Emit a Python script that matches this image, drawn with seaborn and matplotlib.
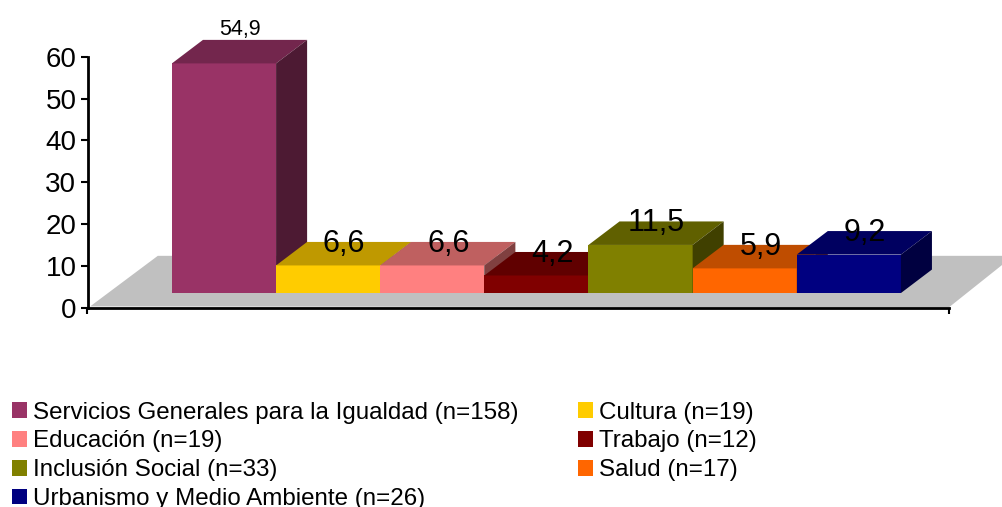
import matplotlib
matplotlib.use("Agg")
import matplotlib.pyplot as plt
import seaborn as sns

categories = ["Servicios Generales para la Igualdad (n=158)", "Cultura (n=19)", "Educación (n=19)",
              "Trabajo (n=12)", "Inclusión Social (n=33)", "Salud (n=17)", "Urbanismo y Medio Ambiente (n=26)"]
values = [54.9, 6.6, 6.6, 4.2, 11.5, 5.9, 9.2]
colors = ["#993366", "#FFCC00", "#FF8080", "#800000", "#808000", "#FF6600", "#000080"]
y_ticks = [0, 10, 20, 30, 40, 50, 60]

sns.set_theme(style="white")
plt.rcParams["font.family"] = ["Liberation Sans", "DejaVu Sans"]

fig = plt.figure(figsize=(10.02, 5.07), dpi=100)
ax = fig.add_axes([87.5 / 1002, (507 - 307.7) / 507, 861.5 / 1002, 251 / 507])

# the fake 3d look: bars float above the axis, depth is a fixed shift
base = 3.5
depth_x = 0.298
depth_y = 5.62

sns.barplot(x=categories, y=values, hue=categories, palette=colors, saturation=1, width=1,
            dodge=False, legend=False, bottom=base, linewidth=0, ax=ax)

x0 = -(224 - 87.5) / 104.14
x1 = x0 + 861.5 / 104.14
ax.set_xlim(x0, x1)
ax.set_ylim(0, 60)


def shade(color, k):
    r, g, b = matplotlib.colors.to_rgb(color)
    return (r * k, g * k, b * k)


# grey floor
floor_x = [x0 + 0.025, x1, x1 + 0.62, x0 + 0.025 + 0.65]
floor_y = [0.3, 0.1, 12.4, 12.4]
ax.fill(floor_x, floor_y, color="#C0C0C0", lw=0, zorder=0.5, clip_on=False)

for i, (val, col) in enumerate(zip(values, colors)):
    bar = ax.containers[i][0]
    bar.set_zorder(2 + i)
    left = bar.get_x()
    right = left + bar.get_width()
    top = base + val
    ax.fill([left, right, right + depth_x, left + depth_x], [top, top, top + depth_y, top + depth_y],
            color=shade(col, 0.75), lw=0, zorder=2.1 + i, clip_on=False)
    ax.fill([right, right + depth_x, right + depth_x, right],
            [base, base + depth_y, top + depth_y, top],
            color=shade(col, 0.5), lw=0, zorder=2.2 + i, clip_on=False)
    label = "{:.1f}".format(val).replace(".", ",")
    if i == 0:
        ax.text(i + depth_x / 2 + 0.005, top + depth_y + 3.0, label, ha="center", va="center_baseline",
                fontsize=15.5, color="black", zorder=20, clip_on=False)
    else:
        ax.text(i + depth_x / 2 + 0.005, top + depth_y + 0.4, label, ha="center", va="center_baseline",
                fontsize=22, color="black", zorder=20, clip_on=False)

for side in ["top", "right"]:
    ax.spines[side].set_visible(False)
for side in ["left", "bottom"]:
    ax.spines[side].set_linewidth(2)
    ax.spines[side].set_color("black")
    ax.spines[side].set_zorder(1)

ax.set_yticks(y_ticks)
ax.set_xticks([x0, x1])
ax.set_xticklabels([])
ax.tick_params(axis="y", left=True, length=5, width=1.5, pad=3, labelsize=20, colors="black")
ax.tick_params(axis="x", bottom=True, length=4, width=1.5, colors="black")
for t in ax.get_yticklabels():
    t.set_va("center_baseline")

# row-wise legend order, matplotlib fills columns
order = [0, 2, 4, 6, 1, 3, 5]
handles = [ax.containers[i][0] for i in order]
labels = [categories[i] for i in order]
fig.legend(handles, labels, ncol=2, frameon=False, fontsize=17.4, loc="lower left",
           bbox_to_anchor=(12 / 1002, -3 / 507), borderaxespad=0, borderpad=0,
           handlelength=0.62, handleheight=0.62, handletextpad=0.25,
           labelspacing=0.28, columnspacing=2.46, labelcolor="black")

fig.savefig("out.png", dpi=100)
